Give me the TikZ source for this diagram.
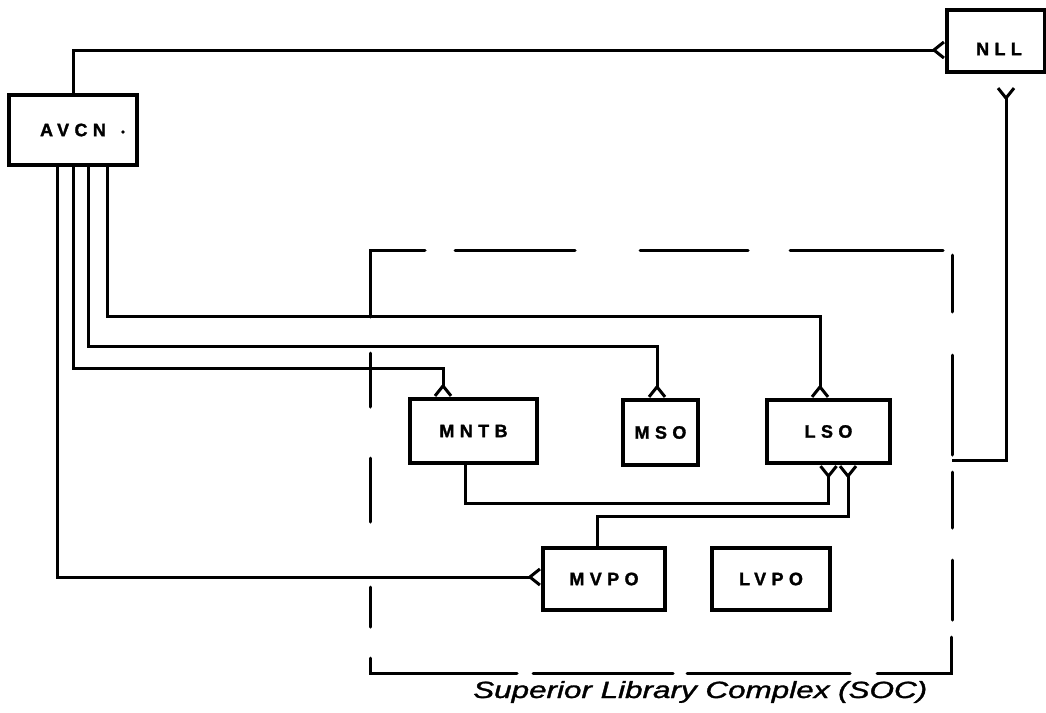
\documentclass[tikz,border=0pt]{standalone}
\usepackage{fontspec}
\usetikzlibrary{arrows.meta,calc}
\newfontfamily\lblfont[LetterSpace=30,BoldFeatures={FakeBold=1.5}]{Liberation Sans}
\newfontfamily\handfont[ItalicFeatures={FakeBold=1.2}]{Liberation Sans}
\tikzset{
  box/.style={draw, rectangle, line width=3.2pt, inner sep=0pt,
    font=\lblfont\bfseries\fontsize{18}{18}\selectfont},
  conn/.style={line width=3pt, line join=miter},
  fork/.style={-{Straight Barb[reversed,length=10pt,width=16pt,line width=3pt]}},
  socline/.style={line width=3pt, line cap=round},
}
\begin{document}
\begin{tikzpicture}[x=1pt,y=-1pt]
\useasboundingbox[fill=white] (0,0) rectangle (1046,712);

% boxes
\node[box, minimum width=128pt, minimum height=70pt] (avcn) at (73,130) {AVCN};
\fill (123,132) circle (1.8pt);
\node[box, minimum width=98pt, minimum height=62pt] (nll) at (996,41) {};
\node[font=\lblfont\bfseries\fontsize{18}{18}\selectfont] (nlltext) at (999,49) {NLL};
\node[box, minimum width=127pt, minimum height=64pt] (mntb) at (473.5,431) {MNTB};
\node[box, minimum width=75pt, minimum height=65pt] (mso) at (660.5,432.5) {MSO};
\node[box, minimum width=123pt, minimum height=63pt] (lso) at (828.5,431.5) {LSO};
\node[box, minimum width=122pt, minimum height=62pt] (mvpo) at (604,579) {MVPO};
\node[box, minimum width=118pt, minimum height=62pt] (lvpo) at (771,579) {LVPO};

% SOC dashed boundary
\coordinate (socR) at (952,460);
\draw[socline] (370,317) -- (370,250) -- (425,250);
\draw[socline] (455,250) -- (575,250);
\draw[socline] (640,250) -- (748,250);
\draw[socline] (790,250) -- (943,250);
\draw[socline] (370,353) -- (370,407);
\draw[socline] (370,458) -- (370,522);
\draw[socline] (370,587) -- (370,627);
\draw[socline] (370,658) -- (370,673) -- (517,673);
\draw[socline] (533,673) -- (673,673);
\draw[socline] (687,673) -- (850,673);
\draw[socline] (877,673) -- (951,673) -- (951,637);
\draw[socline] (952,620) -- (952,560);
\draw[socline] (952,528) -- (952,472);
\draw[socline] (952,455) -- (952,355);
\draw[socline] (952,312) -- (952,255);

% connectors
\draw[conn,fork] (avcn.north) |- ($(nll.west)+(0,9)$);
\draw[conn,fork] ([xshift=-16pt]avcn.south) |- ($(mvpo.west)+(0,-2)$);
\draw[conn,fork] (avcn.south) |- ($(mntb.north)+(-30.5,-29)$) -- ([xshift=-30.5pt]mntb.north);
\draw[conn,fork] ([xshift=15pt]avcn.south) |- ($(mso.north)+(-3.5,-52)$) -- ([xshift=-3.5pt]mso.north);
\draw[conn,fork] ([xshift=34pt]avcn.south) |- ($(lso.north)+(-8.5,-82)$) -- ([xshift=-8.5pt]lso.north);
\draw[conn,fork] ([xshift=-8.5pt]mntb.south) |- ($(lso.south)+(0,39)$) -- (lso.south);
\draw[conn,fork] ([xshift=-7pt]mvpo.north) |- ($(lso.south)+(19.5,52)$) -- ([xshift=19.5pt]lso.south);
\draw[conn,fork] (socR) -| ($(nll.south)+(10,13)$);

% caption
\node[anchor=base west, inner sep=0pt] (soc) at (473,698)
  {\resizebox{454pt}{17pt}{\handfont\itshape Superior Library Complex (SOC)}};
\end{tikzpicture}
\end{document}
